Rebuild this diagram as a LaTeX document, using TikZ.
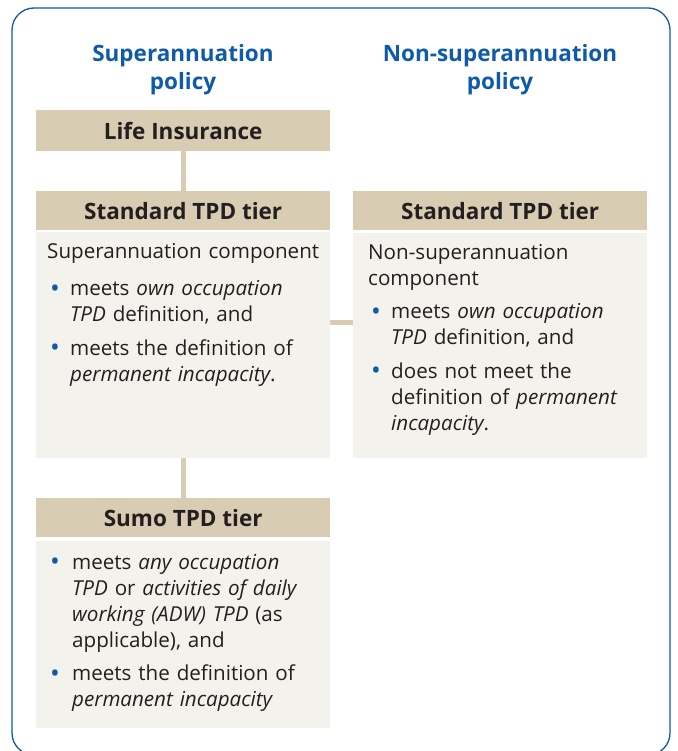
\documentclass[tikz,border=0pt]{standalone}
\usepackage{fontspec}
\setmainfont{Open Sans}
\hyphenpenalty=10000
\exhyphenpenalty=10000

\definecolor{tierblue}{HTML}{0F5BA7}
\definecolor{headtan}{HTML}{D8CCB2}
\definecolor{bodycream}{HTML}{F4F2EC}
\definecolor{inktext}{HTML}{231F20}

% One bullet line with a hanging indent.
\newcommand{\tieritem}[2][23pt]{\par\vspace{7.5pt}\hangindent=#1\hangafter=1\noindent
  \makebox[#1][l]{\hspace{3pt}\raisebox{-1.5pt}{\textcolor{tierblue}{\fontsize{26}{26}\selectfont\textbullet}}}#2\par}

\tikzset{
  titletext/.style={text=tierblue, align=center,
    font=\bfseries\fontsize{22.5}{28}\selectfont},
  tierhead/.style={fill=headtan, minimum width=294pt, minimum height=39pt,
    anchor=north west, inner sep=0pt, text=inktext,
    font=\bfseries\fontsize{22.5}{24}\selectfont},
  tierbody/.style={fill=bodycream, minimum width=294pt, anchor=north west,
    inner sep=0pt},
  tiertext/.style={anchor=north west, text width=290pt, align=left,
    inner sep=0pt, text=inktext, font=\fontsize{20.6}{26}\selectfont},
  link/.style={headtan, line width=5pt},
}

\begin{document}
\begin{tikzpicture}[x=1pt, y=-1pt]
    \useasboundingbox (0,0) rectangle (677,751);

    % Frame.
    \draw [tierblue, line width=1.3pt, rounded corners=22pt] (12,8) rectangle (670,755);

    % Columns.
    \node [titletext] (supertitle) at (183,69.5) {Superannuation\\policy};
    \node [titletext] (nontitle)   at (500,69.5) {Non-superannuation\\policy};

    % Superannuation policy.
    \node [tierhead, minimum height=41pt] (lifeins) at (36,110) {Life Insurance};
    \node [tierhead] (stdhead)  at (36,191) {Standard TPD tier};
    \node [tierbody, minimum height=226pt] (stdbody) at (36,232) {};
    \node [tierhead] (sumohead) at (36,498) {Sumo TPD tier};
    \node [tierbody, minimum height=187pt] (sumobody) at (36,541) {};

    % Non-superannuation policy.
    \node [tierhead] (nonhead) at (353,191) {Standard TPD tier};
    \node [tierbody, minimum height=225pt] (nonbody) at (353,233) {};

    % Texts of the tiers.
    \node [tiertext] (stdtext) at ([shift={(11,11)}]stdbody.north west)
      {Superannuation component\par\vspace{4pt}
       \tieritem{meets \emph{own occupation}\newline \emph{TPD} definition, and}
       \tieritem{meets the definition of\newline \emph{permanent incapacity}.}};
    \node [tiertext] (nontext) at ([shift={(15,11)}]nonbody.north west)
      {Non-superannuation\newline component
       \tieritem{meets \emph{own occupation}\newline \emph{TPD} definition, and}
       \tieritem{does not meet the\newline definition of \emph{permanent}\newline \emph{incapacity}.}};
    \node [tiertext] (sumotext) at ([shift={(11,2)}]sumobody.north west)
      {\vspace{-7.5pt}
       \tieritem[25pt]{meets \emph{any occupation}\newline \emph{TPD} or \emph{activities of daily}\newline \emph{working (ADW) TPD} (as\newline applicable), and}
       \tieritem[25pt]{meets the definition of\newline \emph{permanent incapacity}}};

    % Links between tiers.
    \draw [link] (lifeins.south) -- (stdhead.north);
    \draw [link] (stdbody.south) -- (sumohead.north);
    \draw [link] ([yshift=23pt]stdbody.east) -- ([yshift=23pt]stdbody.east -| nonbody.west);

\end{tikzpicture}
\end{document}
